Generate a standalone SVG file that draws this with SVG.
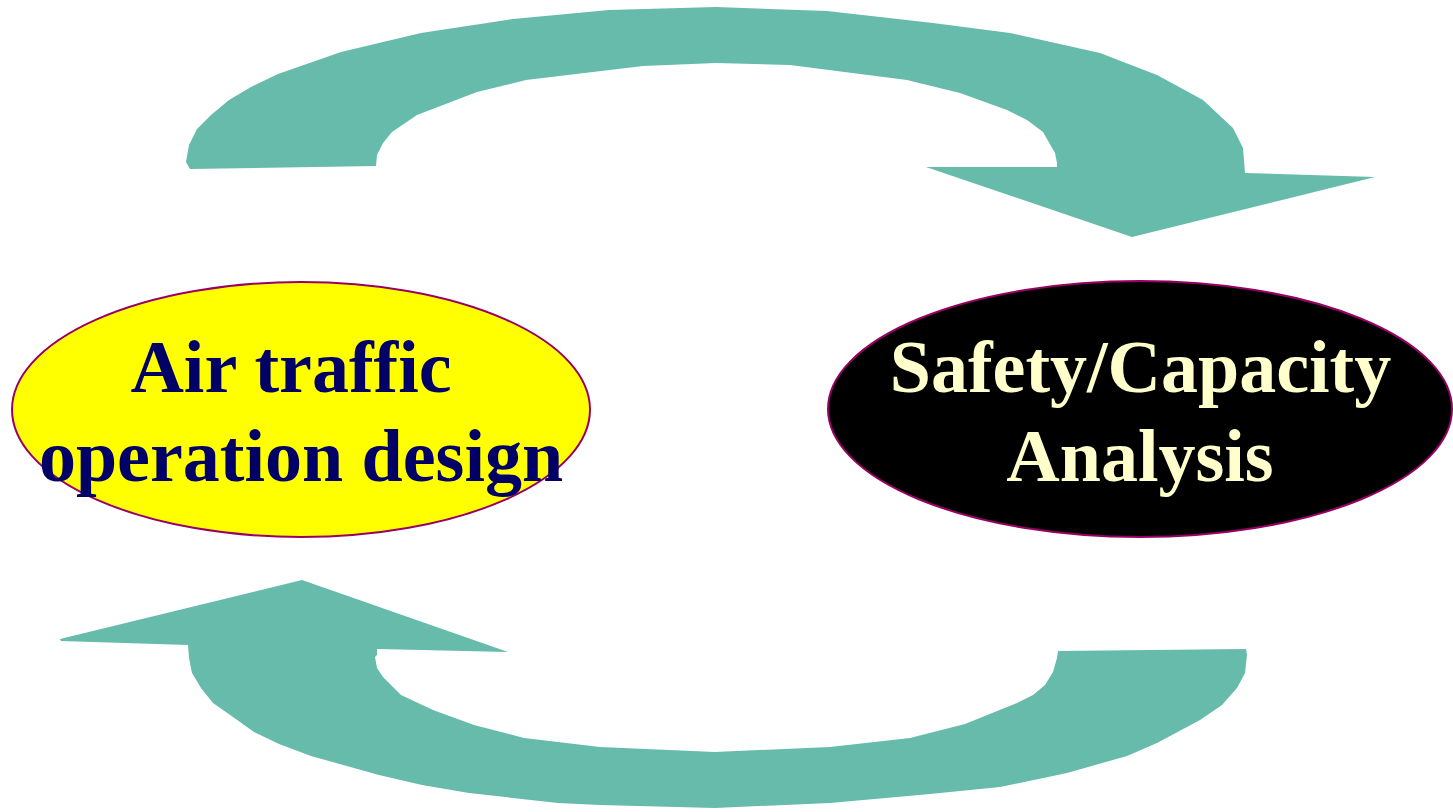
<svg xmlns="http://www.w3.org/2000/svg" width="1453" height="812" viewBox="0 0 1453 812">
<style>
.arrow{fill:#66bbaa;stroke:none}
.node-shape{stroke:#990066;stroke-width:2}
.label{font-family:"Liberation Serif","Times New Roman",serif;font-weight:bold;font-size:74px;text-anchor:middle}
</style>
<rect width="1453" height="812" fill="#ffffff"/>
<g id="connectors">
<polygon id="arrow-top" class="arrow" points="190,169 186,162 189,145 197,129 211,115 229,100 251,87 278,74 341,52 421,33 513,19 609,10 716,7 827,11 933,23 1010,33 1100,53 1157,75 1203,100 1233,128 1243,148 1245,173 1375,177 1132,237 926,167 1057,167 1057,163 1055,153 1043,132 1027,120 1007,110 960,93 907,80 790,65 716,63 643,66 526,80 477,92 417,115 392,132 383,143 377,155 376,166"/>
<polygon id="arrow-bottom" class="arrow" points="60,639 302,580 508,652 377,649 377,655 375,657 377,668 383,677 401,695 433,710 474,725 524,738 600,747 715,752 830,747 910,738 965,724 1017,703 1033,695 1045,685 1053,672 1057,658 1058,651 1246,649 1247,655 1245,673 1237,688 1222,705 1200,720 1157,743 1127,756 1067,773 1000,787 930,794 830,803 715,808 600,805 558,803 469,793 422,785 379,775 311,756 279,744 254,732 233,717 213,703 201,688 192,673 189,658 188,645 61,641"/>
</g>
<g id="node-design">
<ellipse class="node-shape" cx="301" cy="409.5" rx="289" ry="127.5" fill="#ffff00"/>
<text class="label" fill="#000066"><tspan x="291" y="392">Air traffic</tspan><tspan x="301" y="481">operation design</tspan></text>
</g>
<g id="node-analysis">
<ellipse class="node-shape" cx="1140" cy="409" rx="312" ry="128" fill="#000000"/>
<text class="label" fill="#ffffcc"><tspan x="1140.5" y="392">Safety/Capacity</tspan><tspan x="1140" y="481">Analysis</tspan></text>
</g>
</svg>
